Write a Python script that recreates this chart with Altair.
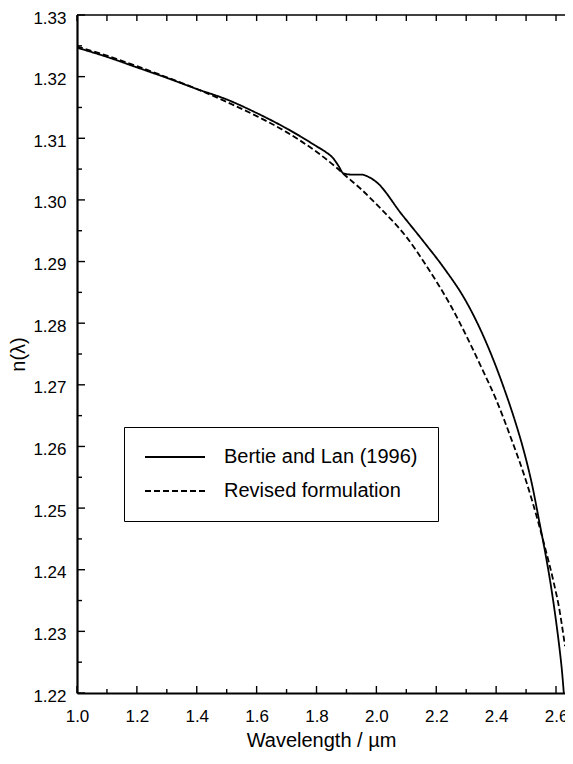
import altair as alt
import pandas as pd

series_names = ["Bertie and Lan (1996)", "Revised formulation"]

bl_wavelength = [1.00, 1.10, 1.20, 1.30, 1.40, 1.50, 1.60, 1.70, 1.75, 1.80, 1.83, 1.855,
                 1.875, 1.89, 1.92, 1.95, 1.975, 2.00, 2.084, 2.16, 2.225, 2.30, 2.35, 2.40,
                 2.428, 2.46, 2.494, 2.52, 2.543, 2.565, 2.581, 2.60, 2.611, 2.62, 2.626]
bl_n = [1.3247, 1.3232, 1.3215, 1.3198, 1.3180, 1.3163, 1.3141, 1.3116, 1.3102, 1.3087, 1.3078, 1.3068,
        1.3054, 1.3043, 1.3041, 1.3041, 1.3037, 1.3029, 1.2977, 1.2931, 1.2890, 1.2835, 1.2787, 1.2729,
        1.2692, 1.2646, 1.2590, 1.2538, 1.2481, 1.2425, 1.2380, 1.2317, 1.2275, 1.2235, 1.2200]

rev_wavelength = [1.00, 1.10, 1.20, 1.30, 1.40, 1.50, 1.60, 1.70, 1.80, 1.87, 1.90, 1.95, 2.00,
                  2.05, 2.10, 2.166, 2.20, 2.25, 2.30, 2.35, 2.40, 2.45, 2.50, 2.543, 2.56,
                  2.592, 2.61, 2.63]
rev_n = [1.3249, 1.3234, 1.3217, 1.3199, 1.3180, 1.3159, 1.3136, 1.3110, 1.3078, 1.3051, 1.3038, 1.3017, 1.2993,
         1.2968, 1.2940, 1.2894, 1.2868, 1.2827, 1.2780, 1.2729, 1.2676, 1.2613, 1.2544, 1.2473, 1.2442,
         1.2380, 1.2339, 1.2276]

x_major = [1.0, 1.2, 1.4, 1.6, 1.8, 2.0, 2.2, 2.4, 2.6]
x_minor = [1.1, 1.3, 1.5, 1.7, 1.9, 2.1, 2.3, 2.5]
y_major = [1.22, 1.23, 1.24, 1.25, 1.26, 1.27, 1.28, 1.29, 1.30, 1.31, 1.32, 1.33]
y_minor = [1.225, 1.235, 1.245, 1.255, 1.265, 1.275, 1.285, 1.295, 1.305, 1.315, 1.325]

lines_df = pd.DataFrame({
    "wavelength": bl_wavelength + rev_wavelength,
    "n": bl_n + rev_n,
    "series": [series_names[0]] * len(bl_wavelength) + [series_names[1]] * len(rev_wavelength),
})

W, H = 488, 678
FONT = "Liberation Sans"
xs = alt.Scale(domain=[1.0, 2.63], nice=False, zero=False)
ys = alt.Scale(domain=[1.22, 1.33], nice=False, zero=False)

x_axis = alt.Axis(values=x_major, format=".1f", title="Wavelength / µm",
                  labelPadding=15, titlePadding=6, domainWidth=2, labelFlush=False)
y_axis = alt.Axis(values=y_major, format=".2f", title="n(λ)",
                  labelPadding=11, labelOffset=3, titlePadding=4, domainWidth=2.2,
                  labelFlush=False)

lines = alt.Chart(lines_df).mark_line(
    color="black", strokeWidth=1.8, clip=True, interpolate="monotone"
).encode(
    x=alt.X("wavelength:Q", scale=xs, axis=x_axis),
    y=alt.Y("n:Q", scale=ys, axis=y_axis),
    strokeDash=alt.StrokeDash(
        "series:N",
        scale=alt.Scale(domain=series_names, range=[[1, 0], [6, 3]]),
        legend=alt.Legend(
            orient="none", legendX=47, legendY=412, title=None,
            fillColor="white", strokeColor="black", padding=20,
            symbolType="stroke", symbolSize=3600, symbolStrokeWidth=2,
            symbolStrokeColor="black", labelFont=FONT, labelFontSize=20,
            labelColor="black", labelOffset=18, rowPadding=14, clipHeight=20,
            labelLimit=400,
        ),
    ),
)


def tick_rules(vals, channel, a, b):
    base = alt.Chart(pd.DataFrame({"v": vals})).mark_rule(color="black", strokeWidth=1.4)
    if channel == "x":
        return base.encode(x=alt.X("v:Q", scale=xs, axis=x_axis), y=alt.value(a), y2=alt.value(b))
    return base.encode(y=alt.Y("v:Q", scale=ys, axis=y_axis), x=alt.value(a), x2=alt.value(b))


# top frame line (the right frame lies beyond the cropped picture)
top_frame = alt.Chart(pd.DataFrame({"v": [0]})).mark_rule(color="black", strokeWidth=1.6).encode(
    y=alt.value(0), x=alt.value(0), x2=alt.value(W)
)

ticks = [
    tick_rules(x_major, "x", H, H - 7),
    tick_rules(x_minor, "x", H, H - 4),
    tick_rules(x_major, "x", 0, 6),
    tick_rules(x_minor, "x", 0, 6),
    tick_rules(y_major, "y", 0, 8),
    tick_rules(y_minor, "y", 0, 5),
]

chart = alt.layer(lines, top_frame, *ticks).properties(
    width=W, height=H,
    padding={"left": 69, "top": 7, "right": 0, "bottom": 58},
    autosize=alt.AutoSizeParams(type="none"),
).configure_view(
    strokeWidth=0
).configure_axis(
    labelFont=FONT, labelFontSize=17, labelColor="black",
    titleFont=FONT, titleFontSize=20, titleFontWeight="normal", titleColor="black",
    domainColor="black", ticks=False, tickSize=0, grid=False,
)

chart.save("out.html", embed_options={"renderer": "svg", "actions": False})
